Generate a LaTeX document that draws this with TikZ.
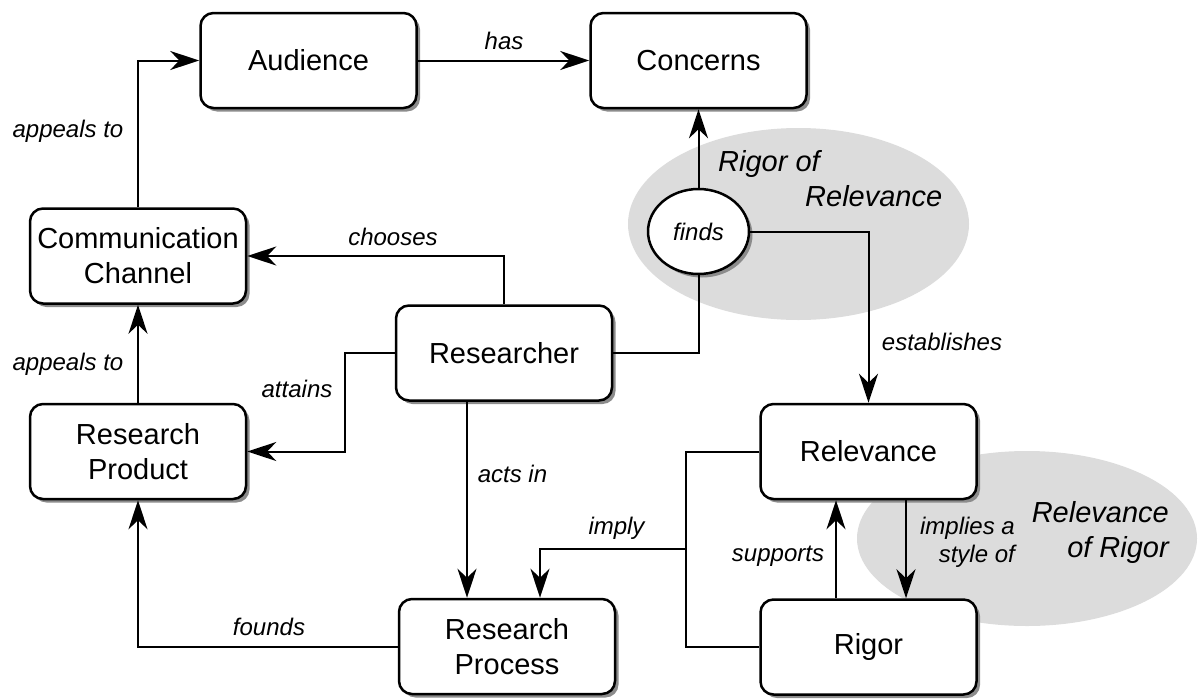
\documentclass[tikz,border=0pt]{standalone}
\usepackage{fontspec}
\setmainfont{Liberation Sans}
\usetikzlibrary{arrows.meta,shapes.geometric,shadows}
\definecolor{regiongray}{RGB}{220,220,220}
\definecolor{shadowgray}{RGB}{140,140,140}

\begin{document}
\begin{tikzpicture}[x=1pt,y=-1pt]
            \tikzset{
            rr node/.style={draw,rounded corners=13pt,line width=2.5pt,fill=white,
                minimum width=216pt,minimum height=95pt,align=center,inner sep=0,
                font=\fontsize{29}{35}\selectfont,
                drop shadow={shadow xshift=3.5pt,shadow yshift=-3.5pt,fill=shadowgray,opacity=1}},
            rr verb/.style={ellipse,draw,line width=2.5pt,fill=white,
                minimum width=101pt,minimum height=85pt,inner sep=0,
                font=\fontsize{24}{28}\selectfont\itshape,
                drop shadow={shadow xshift=3.5pt,shadow yshift=-3.5pt,fill=shadowgray,opacity=1}},
            rr region/.style={ellipse,fill=regiongray,inner sep=0},
            rr title/.style={font=\fontsize{29}{35}\selectfont\itshape,inner sep=0},
            rr label/.style={font=\fontsize{24}{28}\selectfont\itshape,inner sep=0,anchor=base},
            rr edge/.style={line width=2pt,-{Stealth[length=29pt,width=19pt,inset=9pt]}},
            rr line/.style={line width=2pt}
            }
            \useasboundingbox (0,0) rectangle (1198,699);

            % grey regions
            \node[rr region,minimum width=341pt,minimum height=192pt] (rorregion) at (798.5,224) {};
            \node[rr region,minimum width=340pt,minimum height=175pt] (rofrregion) at (1027,538.5) {};
            \node[rr title,align=left,anchor=west] (ror) at (718,179) {Rigor of\\\hspace*{87pt}Relevance};
            \node[rr title,align=right,anchor=east] (rofr) at (1169,532) {Relevance\\of Rigor};

            \node[rr node] (Audience) at (308.5,60.5) {Audience};
            \node[rr node] (Concerns) at (698.5,60.5) {Concerns};
            \node[rr node] (CommChannel) at (138,256) {Communication\\Channel};
            \node[rr node] (Researcher) at (504,353) {Researcher};
            \node[rr node] (ResearchProduct) at (138,451.5) {Research\\Product};
            \node[rr node] (ResearchProcess) at (507,646.5) {Research\\Process};
            \node[rr node] (Relevance) at (868.5,451.5) {Relevance};
            \node[rr node] (Rigor) at (868.5,647) {Rigor};
            \node[rr verb] (Finds) at (698.5,231.5) {finds};

            \coordinate (attainsbend) at (345,353);
            \coordinate (implyjoin) at (686,549);

            \draw[rr edge] (CommChannel.north) |- (Audience.west);
            \draw[rr edge] (Audience.east) -- (Concerns.west);
            \draw[rr edge] (Finds.north) -- (Concerns.south);
            \draw[rr line] (Researcher.east) -| (Finds.south);
            \draw[rr edge] (Finds.east) -| (Relevance.north);
            \draw[rr edge] (Researcher.north) |- (CommChannel.east);
            \draw[rr edge] (Researcher.west) -- (attainsbend) |- (ResearchProduct.east);
            \draw[rr edge] (ResearchProduct.north) -- (CommChannel.south);
            \draw[rr edge] ([xshift=-37pt]Researcher.south) -- ([xshift=-40pt]ResearchProcess.north);
            \draw[rr line] (Relevance.west) -| (implyjoin) |- (Rigor.west);
            \draw[rr edge] (implyjoin) -| ([xshift=33pt]ResearchProcess.north);
            \draw[rr edge] (ResearchProcess.west) -| (ResearchProduct.south);
            \draw[rr edge] ([xshift=-32.5pt]Rigor.north) -- ([xshift=-32.5pt]Relevance.south);
            \draw[rr edge] ([xshift=37.5pt]Relevance.south) -- ([xshift=37.5pt]Rigor.north);

            % connector labels
            \node[rr label] (lhas) at (504,49) {has};
            \node[rr label] (lappeals) at (68,137) {appeals to};
            \node[rr label] (lappealsb) at (68,370) {appeals to};
            \node[rr label] (lchooses) at (393,245) {chooses};
            \node[rr label] (lattains) at (297,397) {attains};
            \node[rr label] (lactsin) at (512.5,482) {acts in};
            \node[rr label] (limply) at (616.5,534) {imply};
            \node[rr label] (lfounds) at (269,635) {founds};
            \node[rr label] (lestablishes) at (942,350) {establishes};
            \node[rr label] (lsupports) at (778,561) {supports};
            \node[rr label,anchor=east,align=right] (limplies) at (1015,542) {implies a\\style of};
        \end{tikzpicture}
\end{document}
